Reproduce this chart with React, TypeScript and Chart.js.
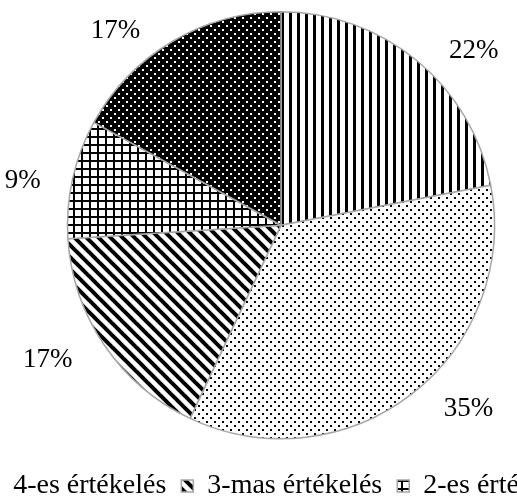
import React, { useEffect, useRef } from "react";
import { Chart, registerables } from "chart.js";

Chart.register(...registerables);

const categories = [
  "5-ös értékelés",
  "4-es értékelés",
  "3-mas értékelés",
  "2-es értékelés",
  "1-es értékelés",
];
const shares = [22, 35, 17, 9, 17];
const shareLabels = ["22%", "35%", "17%", "9%", "17%"];
const patternKinds = ["vlines", "dots", "diag", "grid", "blackdots"];

const FONT = "'Liberation Serif', 'Times New Roman', serif";
const LABEL_SIZE = 27;
const LEGEND_SIZE = 28;
const CANVAS_W = 1200;
const CANVAS_H = 510;

function makePattern(kind: string): CanvasPattern | string {
  const c = document.createElement("canvas");
  const s = kind === "diag" ? 12 : 8;
  c.width = s;
  c.height = s;
  const g = c.getContext("2d")!;
  g.fillStyle = kind === "blackdots" ? "#000" : "#fff";
  g.fillRect(0, 0, s, s);
  g.fillStyle = "#000";
  if (kind === "vlines") {
    g.fillRect(0, 0, 3, s);
  } else if (kind === "dots") {
    g.fillRect(1, 1, 2, 2);
    g.fillRect(5, 5, 2, 2);
  } else if (kind === "diag") {
    g.strokeStyle = "#000";
    g.lineWidth = 4;
    for (let k = -1; k <= 1; k++) {
      g.beginPath();
      g.moveTo(k * s - 2, -2);
      g.lineTo(k * s + s + 2, s + 2);
      g.stroke();
    }
  } else if (kind === "grid") {
    g.fillRect(0, 0, s, 2);
    g.fillRect(0, 0, 2, s);
  } else if (kind === "blackdots") {
    g.fillStyle = "#fff";
    g.fillRect(1, 1, 2, 2);
    g.fillRect(5, 5, 2, 2);
  }
  const p = g.createPattern(c, "repeat");
  return p || "#000";
}

export default function App() {
  const ref = useRef<HTMLCanvasElement>(null);

  useEffect(() => {
    const canvas = ref.current;
    if (!canvas) return;
    const fills = patternKinds.map(makePattern);

    const outsideLabels = {
      id: "outsideLabels",
      afterDatasetsDraw(chart: any) {
        const ctx = chart.ctx as CanvasRenderingContext2D;
        const meta = chart.getDatasetMeta(0);
        ctx.save();
        ctx.font = `${LABEL_SIZE}px ${FONT}`;
        ctx.fillStyle = "#000";
        ctx.textBaseline = "alphabetic";
        const gap = 32;
        const cap = LABEL_SIZE * 0.66;
        meta.data.forEach((arc: any, i: number) => {
          const p = arc.getProps(["x", "y", "startAngle", "endAngle", "outerRadius"], true);
          const mid = (p.startAngle + p.endAngle) / 2;
          const cos = Math.cos(mid);
          const sin = Math.sin(mid);
          const px = p.x + p.outerRadius * cos;
          const py = p.y + p.outerRadius * sin;
          ctx.textAlign = cos >= 0 ? "left" : "right";
          const tx = px + (cos >= 0 ? gap : -gap);
          let ty: number;
          if (sin < -0.3) ty = py - 3;
          else if (sin > 0.3) ty = py + cap + 4;
          else ty = py + cap / 2;
          ctx.fillText(shareLabels[i], tx, ty);
        });
        ctx.restore();
      },
    };

    const chart = new Chart(canvas, {
      type: "pie",
      data: {
        labels: categories,
        datasets: [
          {
            data: shares,
            backgroundColor: fills as any,
            borderColor: "#a6a6a6",
            borderWidth: 1.5,
            hoverOffset: 0,
          },
        ],
      },
      options: {
        animation: false,
        responsive: false,
        layout: { padding: { top: 11, bottom: 0, left: 0, right: 0 } },
        plugins: {
          legend: {
            position: "bottom",
            title: {
              display: true,
              text: "",
              font: { size: 10 },
              padding: { top: 5.5, bottom: 0 },
            },
            labels: {
              boxWidth: 12,
              boxHeight: 12,
              padding: 15,
              color: "#000",
              font: { family: FONT, size: LEGEND_SIZE },
            },
          },
          tooltip: { enabled: false },
        },
      },
      plugins: [outsideLabels],
    });
    return () => chart.destroy();
  }, []);

  return (
    <div
      style={{
        position: "fixed",
        left: 0,
        top: 0,
        width: 517,
        height: 497,
        overflow: "hidden",
        background: "#fff",
      }}
    >
      <div style={{ position: "absolute", left: 281 - CANVAS_W / 2, top: 0 }}>
        <canvas ref={ref} width={CANVAS_W} height={CANVAS_H} style={{ display: "block" }} />
      </div>
    </div>
  );
}
